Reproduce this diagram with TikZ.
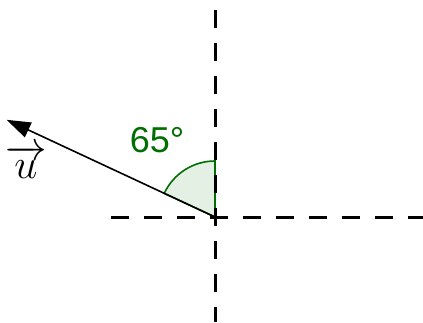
\documentclass[tikz,border=0pt]{standalone}
\usepackage{xcolor}
\usepackage{tikz}
\usepackage{amsmath}
\usepackage{fontspec}
\usetikzlibrary{arrows.meta,calc}
\newfontfamily\rotfont{Liberation Sans}
\definecolor{angGreen}{RGB}{0,110,0}

\begin{document}
\begin{tikzpicture}[x=0.5pt,y=0.5pt,
          eixo/.style={black,line width=1.5pt,dash pattern=on 9pt off 7.5pt},
          vetor/.style={black,line width=0.8pt,-{Triangle[length=12pt,width=8pt]}},
          ang/.style={draw=angGreen,fill=angGreen!10,line width=0.8pt},
        ]
        \useasboundingbox (0,0) rectangle (423,322);
        % Pontos
        \coordinate (O)  at (215,105);
        \coordinate (N)  at (215,312);
        \coordinate (S)  at (215,0);
        \coordinate (W)  at (111,105);
        \coordinate (E)  at (423,105);
        \coordinate (U)  at ($(O)+(155:230)$);
        % Angulo
        \path[ang] (O) -- ++(90:56) arc[start angle=90,end angle=155,radius=56] -- cycle;
        % Eixos
        \draw[eixo] (N) -- (S);
        \draw[eixo] (W) -- (E);
        % Vetor
        \draw[vetor] (O) -- (U);
        % Rotulos
        \node[font=\fontsize{21}{25}\selectfont] (lu) at (26,160) {$\overrightarrow{u}$};
        \node[font=\rotfont\fontsize{18}{21}\selectfont,text=angGreen] (la) at (157,182) {65°};
      \end{tikzpicture}
\end{document}
